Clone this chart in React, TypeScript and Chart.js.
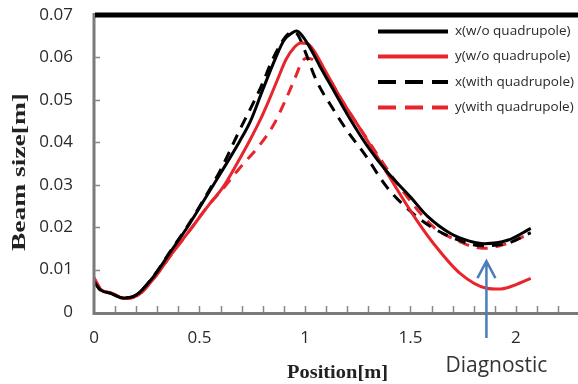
import { useEffect, useRef } from "react";
import { Chart, registerables } from "chart.js";

Chart.register(...registerables);

// ---- data ----
const xNoQuadPositions = [0, 0.03, 0.08, 0.14, 0.2, 0.28, 0.36, 0.44, 0.52, 0.6, 0.69, 0.74, 0.8, 0.86, 0.9, 0.94, 0.96, 0.98, 1.02, 1.07, 1.12, 1.21, 1.3, 1.39, 1.5, 1.58, 1.69, 1.78, 1.85, 1.96, 2.07];
const xNoQuadValues = [0.0072, 0.0052, 0.0044, 0.0033, 0.004, 0.0082, 0.014, 0.0198, 0.0262, 0.0327, 0.0402, 0.0448, 0.0524, 0.0598, 0.064, 0.0658, 0.0662, 0.0655, 0.0626, 0.058, 0.0536, 0.0458, 0.0388, 0.033, 0.0271, 0.0226, 0.0185, 0.0167, 0.0161, 0.0169, 0.0197];

const yNoQuadPositions = [0, 0.035, 0.08, 0.145, 0.21, 0.29, 0.37, 0.45, 0.55, 0.61, 0.68, 0.74, 0.79, 0.83, 0.87, 0.91, 0.95, 0.98, 1.01, 1.04, 1.09, 1.17, 1.27, 1.38, 1.45, 1.53, 1.61, 1.735, 1.86, 1.92, 1.97, 2.07];
const yNoQuadValues = [0.008, 0.0052, 0.0045, 0.0032, 0.004, 0.0083, 0.0138, 0.019, 0.0256, 0.0293, 0.0352, 0.0406, 0.0455, 0.05, 0.0548, 0.0595, 0.0624, 0.0634, 0.0633, 0.0618, 0.0574, 0.0503, 0.0425, 0.0335, 0.0278, 0.0216, 0.0161, 0.0091, 0.0056, 0.0054, 0.0059, 0.0079];

const xWithQuadPositions = [0, 0.03, 0.08, 0.14, 0.2, 0.28, 0.36, 0.44, 0.52, 0.6, 0.63, 0.68, 0.79, 0.85, 0.91, 0.94, 0.96, 1.0, 1.04, 1.07, 1.12, 1.2, 1.28, 1.39, 1.51, 1.6, 1.72, 1.84, 1.96, 2.07];
const xWithQuadValues = [0.0072, 0.0052, 0.0044, 0.0033, 0.004, 0.0083, 0.0142, 0.02, 0.0265, 0.0335, 0.0365, 0.0418, 0.0529, 0.0599, 0.065, 0.066, 0.0657, 0.0615, 0.0562, 0.053, 0.0489, 0.0427, 0.0374, 0.0293, 0.0233, 0.02, 0.0171, 0.0156, 0.0162, 0.0187];

const yWithQuadPositions = [0, 0.035, 0.08, 0.145, 0.21, 0.29, 0.37, 0.45, 0.55, 0.6, 0.69, 0.78, 0.85, 0.91, 0.96, 0.985, 1.01, 1.04, 1.1, 1.17, 1.31, 1.45, 1.61, 1.72, 1.845, 1.956, 2.066];
const yWithQuadValues = [0.008, 0.0052, 0.0045, 0.0032, 0.004, 0.0083, 0.0138, 0.019, 0.0256, 0.0284, 0.0339, 0.039, 0.044, 0.0502, 0.056, 0.059, 0.0598, 0.0594, 0.0562, 0.0503, 0.0396, 0.0294, 0.02, 0.0169, 0.015, 0.0161, 0.0185];

const seriesLabels = ["x(w/o quadrupole)", "y(w/o quadrupole)", "x(with quadrupole)", "y(with quadrupole)"];
const xTickValues = [0, 0.5, 1, 1.5, 2];
const xMinorTickValues = [0.1, 0.2, 0.3, 0.4, 0.5, 0.6, 0.7, 0.8, 0.9, 1.0, 1.1, 1.2, 1.3, 1.4, 1.5, 1.6, 1.7, 1.8, 1.9, 2.0, 2.1, 2.2];
const yTickValues = [0, 0.01, 0.02, 0.03, 0.04, 0.05, 0.06, 0.07];
const xAxisMax = 2.294;
const diagnosticPosition = 1.86;
const diagnosticLabel = "Diagnostic";
const xTitle = "Position[m]";
const yTitle = "Beam size[m]";

const RED = "#e8242c";
const BLACK = "#000000";
const AXIS_GRAY = "#7a7a7a";

const toPoints = (xs: number[], ys: number[]) => xs.map((x, i) => ({ x, y: ys[i] }));

const decorPlugin = {
  id: "decor",
  afterDraw(chart: any) {
    const { ctx, chartArea } = chart;
    const xs = chart.scales.x;
    const ys = chart.scales.y;
    const { left, right, top, bottom } = chartArea;
    ctx.save();

    // axis lines
    ctx.strokeStyle = AXIS_GRAY;
    ctx.lineWidth = 3;
    ctx.beginPath();
    ctx.moveTo(left, top - 2);
    ctx.lineTo(left, bottom + 1.5);
    ctx.lineTo(right + 2, bottom + 1.5);
    ctx.stroke();

    // inward tick marks
    ctx.strokeStyle = "#888";
    ctx.lineWidth = 1.5;
    ctx.beginPath();
    xMinorTickValues.forEach((v) => {
      const px = Math.round(xs.getPixelForValue(v)) + 0.5;
      ctx.moveTo(px, bottom);
      ctx.lineTo(px, bottom - 6);
    });
    yTickValues.forEach((v) => {
      if (v === 0) return;
      const py = Math.round(ys.getPixelForValue(v)) + 0.5;
      ctx.moveTo(left, py);
      ctx.lineTo(left + 6, py);
    });
    ctx.stroke();

    // top border
    ctx.strokeStyle = "#000";
    ctx.lineWidth = 5;
    ctx.beginPath();
    ctx.moveTo(left + 1, top);
    ctx.lineTo(right + 2, top);
    ctx.stroke();

    // legend
    const datasets = chart.data.datasets;
    const rowYs = [31.5, 56.5, 82, 107.5];
    datasets.forEach((ds: any, i: number) => {
      const y = rowYs[i];
      ctx.strokeStyle = ds.borderColor;
      ctx.lineWidth = 4;
      ctx.setLineDash(ds.borderDash && ds.borderDash.length ? [18, 9] : []);
      ctx.beginPath();
      ctx.moveTo(378, y);
      ctx.lineTo(448, y);
      ctx.stroke();
      ctx.setLineDash([]);
      ctx.fillStyle = "#2a2a2a";
      ctx.font = "13.5px 'Open Sans'";
      ctx.textAlign = "left";
      ctx.textBaseline = "middle";
      ctx.fillText(ds.label, 455, y);
    });

    // axis titles
    ctx.fillStyle = "#222";
    ctx.font = "bold 18px 'Liberation Serif'";
    ctx.textAlign = "center";
    ctx.textBaseline = "alphabetic";
    {
      const w = ctx.measureText(yTitle).width;
      const target = 158;
      ctx.save();
      ctx.translate(25, 172);
      ctx.rotate(-Math.PI / 2);
      ctx.scale(target / w, 1);
      ctx.fillText(yTitle, 0, 0);
      ctx.restore();
    }
    {
      ctx.font = "bold 19px 'Liberation Serif'";
      const w = ctx.measureText(xTitle).width;
      const target = 101;
      ctx.save();
      ctx.translate(337.5, 378);
      ctx.scale(target / w, 1);
      ctx.fillText(xTitle, 0, 0);
      ctx.restore();
    }

    // diagnostic arrow
    const ax = xs.getPixelForValue(diagnosticPosition);
    const tipY = ys.getPixelForValue(0.012);
    ctx.strokeStyle = "#4a7ebb";
    ctx.lineWidth = 2.5;
    ctx.beginPath();
    ctx.moveTo(ax, bottom + 26);
    ctx.lineTo(ax, tipY);
    ctx.moveTo(ax - 9, tipY + 17);
    ctx.lineTo(ax, tipY);
    ctx.lineTo(ax + 9, tipY + 17);
    ctx.stroke();

    ctx.fillStyle = "#333";
    ctx.font = "21px 'Open Sans'";
    ctx.textAlign = "center";
    ctx.textBaseline = "alphabetic";
    ctx.fillText(diagnosticLabel, ax + 10, 372);

    ctx.restore();
  },
};

export default function App() {
  const canvasRef = useRef<HTMLCanvasElement | null>(null);

  useEffect(() => {
    document.body.style.margin = "0";
    const canvas = canvasRef.current;
    if (!canvas) return;
    const common = {
      fill: false,
      pointRadius: 0,
      borderWidth: 3,
      cubicInterpolationMode: "monotone" as const,
      borderJoinStyle: "round" as const,
    };
    const chart = new Chart(canvas, {
      type: "line",
      data: {
        datasets: [
          { ...common, label: seriesLabels[0], data: toPoints(xNoQuadPositions, xNoQuadValues), borderColor: BLACK, borderDash: [] },
          { ...common, label: seriesLabels[1], data: toPoints(yNoQuadPositions, yNoQuadValues), borderColor: RED, borderDash: [] },
          { ...common, label: seriesLabels[2], data: toPoints(xWithQuadPositions, xWithQuadValues), borderColor: BLACK, borderDash: [11, 8] },
          { ...common, label: seriesLabels[3], data: toPoints(yWithQuadPositions, yWithQuadValues), borderColor: RED, borderDash: [11, 8] },
        ],
      },
      options: {
        animation: false,
        responsive: false,
        maintainAspectRatio: false,
        layout: { padding: { top: 15, right: 0, left: 0, bottom: 0 } },
        plugins: { legend: { display: false }, tooltip: { enabled: false } },
        scales: {
          x: {
            type: "linear",
            min: 0,
            max: xAxisMax,
            grid: { display: false, drawTicks: false },
            border: { display: false },
            afterBuildTicks: (scale: any) => {
              scale.ticks = xTickValues.map((v) => ({ value: v }));
            },
            afterFit: (scale: any) => {
              scale.height = 72;
              scale.paddingLeft = 0;
              scale.paddingRight = 0;
            },
            ticks: {
              padding: 16,
              maxRotation: 0,
              autoSkip: false,
              color: "#2a2a2a",
              font: { family: "'Open Sans'", size: 17 },
              callback: (v: any) => String(Number(Number(v).toFixed(2))),
            },
          },
          y: {
            type: "linear",
            min: 0,
            max: 0.07,
            grid: { display: false, drawTicks: false },
            border: { display: false },
            afterBuildTicks: (scale: any) => {
              scale.ticks = yTickValues.map((v) => ({ value: v }));
            },
            afterFit: (scale: any) => {
              scale.width = 94;
              scale.paddingTop = 0;
              scale.paddingBottom = 0;
            },
            ticks: {
              padding: 21,
              autoSkip: false,
              color: "#2a2a2a",
              font: { family: "'Open Sans'", size: 17 },
              callback: (v: any) => String(Number(Number(v).toFixed(2))),
            },
          },
        },
      },
      plugins: [decorPlugin],
    });
    return () => chart.destroy();
  }, []);

  return (
    <div style={{ width: 578, height: 384, background: "#fff" }}>
      <canvas ref={canvasRef} width={578} height={384} style={{ display: "block" }} />
    </div>
  );
}
